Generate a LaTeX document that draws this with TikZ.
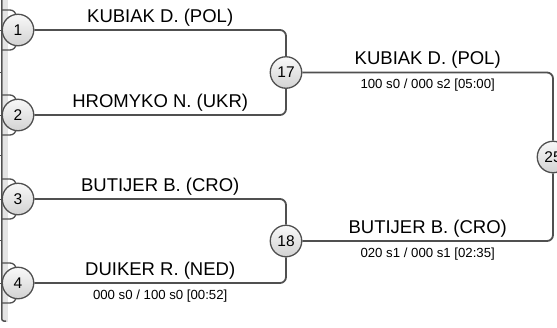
\documentclass[tikz,border=0pt]{standalone}
\usepackage{fontspec}
\setmainfont{Liberation Sans}
\definecolor{linegray}{HTML}{505050}
\definecolor{bandgray}{HTML}{E4E4E4}

\begin{document}
\begin{tikzpicture}[x=1pt,y=-1pt,
  seat/.style={circle,draw=linegray,line width=1.3pt,top color=gray!5,bottom color=gray!35,
    minimum size=31.5pt,inner sep=0pt,font=\fontsize{15.5}{16}\selectfont},
  conn/.style={draw=linegray,line width=1.8pt,rounded corners=6pt},
  athlete/.style={anchor=base,yshift=8pt,font=\fontsize{18.5}{20}\selectfont},
  score/.style={anchor=base,yshift=-16pt,font=\fontsize{13.2}{15}\selectfont}]
\useasboundingbox (0,0) rectangle (557,327);

% left edge, cut off from the earlier round
\fill[bandgray] (3,0) rectangle (8,322);
\draw[linegray,line width=1.5pt,rounded corners=2pt] (1.8,0) -- (1.8,321) -- (6,321);
\foreach \y in {30,72,115,155,199,240,283}
  \draw[linegray,line width=1pt] (0,\y) -- (1.8,\y);
\foreach \y in {30,115,199,283}
  \draw[linegray,line width=1.3pt,rounded corners=6pt] (1.8,\y-20) -- (16,\y-20) -- (16,\y+20) -- (1.8,\y+20);

% seats
\node[seat] (s1) at (18,30) {1};
\node[seat] (s2) at (18,115) {2};
\node[seat] (s3) at (18,199) {3};
\node[seat] (s4) at (18,283) {4};
\node[seat] (m17) at (286,72.5) {17};
\node[seat] (m18) at (286,241) {18};
\node[seat] (f25) at (553,157) {25};

% first round
\draw[conn] (s1) -- node[athlete] (w1) {KUBIAK D. (POL)} (m17 |- s1) -- (m17);
\draw[conn] (s2) -- node[athlete] (w2) {HROMYKO N. (UKR)} (m17 |- s2) -- (m17);
\draw[conn] (s3) -- node[athlete] (w3) {BUTIJER B. (CRO)} (m18 |- s3) -- (m18);
\draw[conn] (s4) -- node[athlete] (w4) {DUIKER R. (NED)}
  node[score] (r18) {000 s0 / 100 s0 [00:52]} (m18 |- s4) -- (m18);

% second round
\draw[conn] (m17) -- node[athlete] (w17) {KUBIAK D. (POL)}
  node[score] (r17) {100 s0 / 000 s2 [05:00]} (f25 |- m17) -- (f25);
\draw[conn] (m18) -- node[athlete] (w18) {BUTIJER B. (CRO)}
  node[score] (r25) {020 s1 / 000 s1 [02:35]} (f25 |- m18) -- (f25);
\end{tikzpicture}
\end{document}
